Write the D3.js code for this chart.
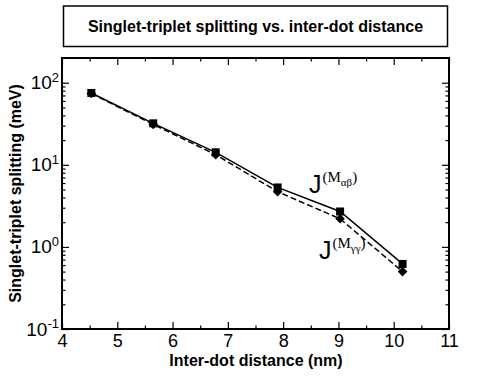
<!DOCTYPE html>
<head>
<meta charset="utf-8">
<title>Singlet-triplet splitting</title>
<style>
body { margin: 0; background: #fff; }
svg { font-family: "Liberation Sans", Arial, sans-serif; }
.tick line { stroke: #000; stroke-width: 1.2; }
.tick text { fill: #000; font-size: 19px; }
.x-ticks .tick text { font-size: 18px; }
.axis-title { font-weight: bold; font-size: 16px; }
</style>
</head>
<body>
<script src="https://cdn.jsdelivr.net/npm/d3@7"></script>
<script>

// data
var distance = [4.53, 5.65, 6.78, 7.90, 9.03, 10.16];
var jAlphaBeta = [75, 32, 14.2, 5.3, 2.7, 0.62];
var jGammaGamma = [74, 31, 13.3, 4.7, 2.2, 0.50];

var xMajor = [4, 5, 6, 7, 8, 9, 10, 11];
var xMinor = [4.5, 5.5, 6.5, 7.5, 8.5, 9.5, 10.5];
var yMajor = [0.1, 1, 10, 100];
var yExp = ["-1", "0", "1", "2"];

var margin = {top: 58, right: 53, bottom: 59, left: 62},
    width = 502 - margin.left - margin.right,
    height = 388 - margin.top - margin.bottom;

var svg = d3.select("body").append("svg")
    .attr("width", 502)
    .attr("height", 388);

// title box
svg.append("rect")
    .attr("x", 63.5).attr("y", 6)
    .attr("width", 384).attr("height", 40.5)
    .attr("fill", "none").attr("stroke", "#000").attr("stroke-width", 1.5);
svg.append("text")
    .attr("x", 255.5).attr("y", 31.5)
    .attr("text-anchor", "middle")
    .style("font-weight", "bold").style("font-size", "16px")
    .text("Singlet-triplet splitting vs. inter-dot distance");

var g = svg.append("g")
    .attr("transform", "translate(" + margin.left + "," + margin.top + ")");

var x = d3.scaleLinear().domain([4, 11]).range([0, width]);
var y = d3.scaleLog().domain([0.1, 200]).range([height, 0]);

var yMinor = [];
yMajor.forEach(function(d) {
  for (var k = 2; k <= 9; k++) { if (d * k < 200) yMinor.push(d * k); }
});

function addAxis(axis, transform) {
  var a = g.append("g").attr("transform", transform || null).call(axis);
  a.select(".domain").remove();
  return a;
}

// bottom
addAxis(d3.axisBottom(x).tickValues(xMajor).tickSize(-7).tickPadding(5)
    .tickFormat(d3.format("d")), "translate(0," + height + ")")
  .attr("class", "x-ticks");
addAxis(d3.axisBottom(x).tickValues(xMinor).tickSize(-3.5).tickFormat(""),
    "translate(0," + height + ")");
// top
addAxis(d3.axisTop(x).tickValues(xMajor).tickSize(-7).tickFormat(""));
addAxis(d3.axisTop(x).tickValues(xMinor).tickSize(-3.5).tickFormat(""));

// left
var yl = addAxis(d3.axisLeft(y).tickValues(yMajor).tickSize(-7).tickPadding(3)
    .tickFormat(""));
yl.selectAll(".tick text").each(function(d, i) {
  var t = d3.select(this);
  t.text("10");
  t.append("tspan").attr("dy", "-0.55em").style("font-size", "13px").text(yExp[i]);
});
addAxis(d3.axisLeft(y).tickValues(yMinor).tickSize(-3.5).tickFormat(""));
// right
addAxis(d3.axisRight(y).tickValues(yMajor).tickSize(-7).tickFormat(""),
    "translate(" + width + ",0)");
addAxis(d3.axisRight(y).tickValues(yMinor).tickSize(-3.5).tickFormat(""),
    "translate(" + width + ",0)");

// frame
g.append("rect")
    .attr("width", width).attr("height", height)
    .attr("fill", "none").attr("stroke", "#000").attr("stroke-width", 2);

// lines
var line = d3.line()
    .x(function(d) { return x(d[0]); })
    .y(function(d) { return y(d[1]); });

var ab = d3.zip(distance, jAlphaBeta);
var gg = d3.zip(distance, jGammaGamma);

g.append("path").datum(gg)
    .attr("d", line)
    .attr("fill", "none").attr("stroke", "#000")
    .attr("stroke-width", 1.5).attr("stroke-dasharray", "6,3");
g.append("path").datum(ab)
    .attr("d", line)
    .attr("fill", "none").attr("stroke", "#000").attr("stroke-width", 1.5);

// markers
g.selectAll(".diamond").data(gg).enter().append("path")
    .attr("class", "diamond")
    .attr("d", "M0,-4.8L4.8,0L0,4.8L-4.8,0Z")
    .attr("transform", function(d) { return "translate(" + x(d[0]) + "," + y(d[1]) + ")"; })
    .attr("fill", "#000");
g.selectAll(".square").data(ab).enter().append("rect")
    .attr("class", "square")
    .attr("x", function(d) { return x(d[0]) - 4; })
    .attr("y", function(d) { return y(d[1]) - 4; })
    .attr("width", 8).attr("height", 8)
    .attr("fill", "#000");

// curve labels
function curveLabel(px, py, sub) {
  var t = svg.append("text").attr("x", px).attr("y", py).attr("fill", "#000");
  t.append("tspan").style("font-size", "25px").text("J");
  var s = t.append("tspan").style("font-family", "'Liberation Serif', 'Times New Roman', serif");
  s.append("tspan").attr("dx", 1).attr("dy", -11).style("font-size", "15px").text("(M");
  s.append("tspan").attr("dy", 4).style("font-size", "11px").text(sub);
  s.append("tspan").attr("dy", -4).style("font-size", "15px").text(")");
}
curveLabel(309, 193, "\u03b1\u03b2");
curveLabel(319, 259, "\u03b3\u03b3");

// axis titles
svg.append("text").attr("class", "axis-title")
    .attr("x", 256).attr("y", 365.5)
    .attr("text-anchor", "middle")
    .text("Inter-dot distance (nm)");
svg.append("text").attr("class", "axis-title")
    .attr("transform", "translate(21," + (margin.top + height / 2) + ")rotate(-90)")
    .attr("text-anchor", "middle")
    .text("Singlet-triplet splitting (meV)");

</script>
</body>
</html>
